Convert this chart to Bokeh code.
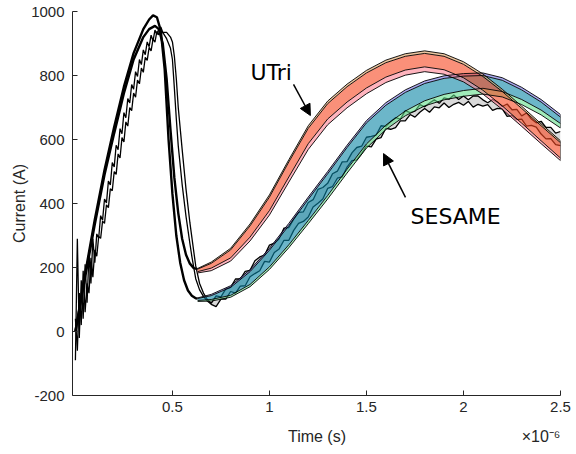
import numpy as np
from bokeh.plotting import figure
from bokeh.models import Range1d, Label, Arrow, NormalHead, FixedTicker, LinearAxis
from bokeh.embed import file_html
from bokeh.resources import INLINE

# ---------------- data (time in microseconds; axis shows x10^-6 s) ----------------
band_t = [0.63, 0.70, 0.80, 0.90, 1.00, 1.10, 1.20, 1.30, 1.40, 1.50,
          1.60, 1.70, 1.80, 1.90, 2.00, 2.10, 2.20, 2.30, 2.40, 2.50]
# UTri
utri_tan = [197, 217, 260, 336, 427, 537, 643, 720, 773, 816, 848, 868, 877, 868, 843, 805, 757, 704, 649, 596]
utri_hi = [195, 213, 255, 330, 420, 530, 635, 712, 765, 808, 840, 860, 869, 860, 835, 797, 750, 697, 643, 590]
utri_lo = [187, 198, 230, 295, 378, 483, 587, 664, 717, 761, 795, 817, 827, 818, 793, 754, 705, 651, 596, 542]
utri_pink = [183, 190, 220, 283, 364, 467, 569, 646, 699, 743, 778, 801, 812, 804, 780, 742, 694, 641, 587, 534]
# SESAME
ses_pur = [105, 116, 143, 193, 260, 338, 420, 500, 582, 659, 715, 755, 783, 799, 806, 808, 793, 763, 725, 678]
ses_hi = [103, 112, 138, 187, 254, 331, 413, 493, 575, 652, 707, 747, 775, 791, 798, 800, 785, 755, 717, 670]
ses_lo = [97, 100, 113, 147, 202, 271, 347, 425, 507, 586, 645, 689, 721, 741, 753, 760, 750, 725, 692, 650]
ses_green = [94, 95, 107, 140, 194, 262, 337, 414, 495, 573, 631, 674, 705, 724, 735, 742, 733, 709, 677, 636]

# simulated curves before the minimum
ses_model_t = [0.0, 0.05, 0.10, 0.15, 0.20, 0.25, 0.30, 0.35, 0.38, 0.40, 0.42, 0.44,
               0.46, 0.48, 0.50, 0.52, 0.54, 0.56, 0.58, 0.60, 0.62, 0.63]
ses_model_i = [0, 180, 350, 505, 640, 765, 870, 945, 975, 988, 982, 940,
               820, 600, 430, 300, 215, 160, 128, 112, 104, 103]
utri_model_t = [0.0, 0.05, 0.10, 0.15, 0.20, 0.25, 0.30, 0.35, 0.38, 0.41, 0.43,
                0.45, 0.47, 0.49, 0.51, 0.53, 0.55, 0.57, 0.59, 0.61, 0.63]
utri_model_i = [0, 170, 335, 490, 620, 745, 850, 920, 945, 955, 945,
                900, 790, 630, 480, 370, 290, 240, 212, 198, 195]

# experiment: two shots
exp_rise_t = [round(0.01 * k, 2) for k in range(46)]
exp1_rise = [-90, 290, -20, 160, 40, 210, 90, 240, 150, 290, 215, 305, 292, 362, 348, 414,
             402, 470, 458, 528, 514, 582, 568, 634, 618, 684, 668, 728, 714, 772, 757, 812,
             797, 850, 834, 880, 865, 905, 890, 926, 908, 942, 927, 946, 932, 935]
exp2_rise = [40, -60, 120, 20, 190, 60, 150, 120, 230, 170, 255, 235, 297, 291, 345, 338,
             396, 387, 446, 440, 500, 491, 555, 542, 606, 592, 655, 642, 700, 690, 745, 732,
             786, 774, 823, 810, 857, 847, 888, 877, 914, 904, 938, 927, 952, 935]
exp_fall_t = [0.47, 0.49, 0.50, 0.51, 0.52, 0.53, 0.55, 0.57, 0.59, 0.60, 0.62, 0.64, 0.66, 0.68]
exp1_fall = [915, 885, 850, 760, 665, 580, 460, 360, 275, 235, 165, 130, 110, 95]
exp2_fall = [935, 920, 905, 860, 790, 700, 570, 445, 340, 295, 205, 150, 120, 100]
exp1_post = [85, 78, 101, 101, 125, 120, 142, 143, 171, 181, 190, 219, 217, 247, 258, 285,
             285, 316, 338, 344, 358, 389, 401, 414, 447, 453, 479, 483, 514, 534, 536, 556,
             579, 577, 601, 606, 635, 632, 637, 658, 658, 678, 670, 685, 697, 685, 702, 699,
             714, 700, 710, 716, 707, 719, 701, 710, 704, 709, 691, 697, 696, 672, 675, 662,
             664, 642, 644, 639, 617, 602, 603, 584, 581]
exp2_post = [88, 111, 108, 133, 138, 164, 164, 188, 191, 221, 233, 239, 270, 276, 290, 323,
             325, 351, 372, 374, 403, 412, 444, 450, 463, 493, 501, 530, 531, 558, 575, 579,
             607, 610, 614, 643, 641, 656, 668, 664, 690, 684, 689, 709, 702, 714, 724, 713,
             730, 726, 739, 725, 736, 724, 736, 736, 724, 715, 725, 717, 703, 711, 693, 694,
             674, 683, 664, 652, 657, 638, 638, 620, 625]
exp_post_t = [round(0.70 + 0.025 * k, 3) for k in range(len(exp1_post))]

x_ticks = [0.5, 1.0, 1.5, 2.0, 2.5]
x_tick_labels = ["0.5", "1", "1.5", "2", "2.5"]
y_ticks = [-200, 0, 200, 400, 600, 800, 1000]
y_tick_labels = ["-200", "0", "200", "400", "600", "800", "1000"]
x_title = "Time (s)"
x_multiplier = "\u00d710\u207b\u2076"
y_title = "Current (A)"

# annotation / title layout
ann = dict(utri_txt=(0.902, 810), utri_a0=(1.124, 772), utri_a1=(1.211, 675),
           ses_txt=(1.727, 360), ses_a0=(1.701, 419), ses_a1=(1.588, 556))
x_title_pos = 1.245
x_mult_pos = 2.40

# ---------------- figure ----------------
FONT = "Liberation Sans"
p = figure(frame_width=488, frame_height=384, output_backend="svg", toolbar_location=None,
           x_range=Range1d(-0.015, 2.5), y_range=Range1d(-200, 1000),
           min_border_left=72, min_border_right=16, min_border_top=11, min_border_bottom=50)
p.outline_line_color = None
p.grid.visible = False
p.background_fill_color = "white"

A = 0.6
p.varea(x=exp_post_t, y1=exp1_post, y2=exp2_post, fill_color="#d9d9d9")
for r, f, po in ((exp1_rise, exp1_fall, exp1_post), (exp2_rise, exp2_fall, exp2_post)):
    p.line(exp_rise_t + exp_fall_t + exp_post_t, r + f + po, line_color="black", line_width=1.3)

p.varea(x=band_t, y1=ses_green, y2=ses_lo, fill_color="#61de8a", fill_alpha=A)
p.varea(x=band_t, y1=ses_lo, y2=ses_hi, fill_color="#0a85a5", fill_alpha=A)
p.varea(x=band_t, y1=ses_hi, y2=ses_pur, fill_color="#7171e6", fill_alpha=A)
p.varea(x=band_t, y1=utri_pink, y2=utri_lo, fill_color="#ff8293", fill_alpha=A)
p.varea(x=band_t, y1=utri_lo, y2=utri_hi, fill_color="#f7461f", fill_alpha=A)
p.varea(x=band_t, y1=utri_hi, y2=utri_tan, fill_color="#e0a060", fill_alpha=A)

for edge in (ses_green, ses_lo, ses_hi, ses_pur, utri_pink, utri_lo, utri_hi, utri_tan):
    p.line(band_t, edge, line_color="black", line_width=0.9)
for lo, hi in ((ses_green, ses_pur), (utri_pink, utri_tan)):
    p.segment(x0=[band_t[-1]], y0=[lo[-1]], x1=[band_t[-1]], y1=[hi[-1]],
              line_color="black", line_width=0.9)

p.line(ses_model_t, ses_model_i, line_color="black", line_width=2.4)
p.line(utri_model_t, utri_model_i, line_color="black", line_width=2.4)

for key, txt in (("utri", "UTri"), ("ses", "SESAME")):
    tx, ty = ann[key + "_txt"]
    p.add_layout(Label(x=tx, y=ty, text=txt, text_font="DejaVu Sans", text_font_size="22px",
                       text_color="black", text_baseline="alphabetic"))
    (x0, y0), (x1, y1) = ann[key + "_a0"], ann[key + "_a1"]
    p.add_layout(Arrow(end=NormalHead(size=11, fill_color="black", line_color="black"),
                       x_start=x0, y_start=y0, x_end=x1, y_end=y1,
                       line_color="black", line_width=1.5))

for ax in (p.xaxis[0], p.yaxis[0]):
    ax.axis_line_color = "#262626"
    ax.major_tick_line_color = "#262626"
    ax.major_tick_in = 5
    ax.major_tick_out = 0
    ax.minor_tick_line_color = None
    ax.major_label_text_font = FONT
    ax.major_label_text_font_size = "15px"
    ax.major_label_text_color = "#262626"
    ax.axis_label_text_font = FONT
    ax.axis_label_text_font_size = "16px"
    ax.axis_label_text_font_style = "normal"
    ax.axis_label_text_color = "#262626"

p.xaxis.ticker = FixedTicker(ticks=x_ticks)
p.xaxis.major_label_overrides = dict(zip(x_ticks, x_tick_labels))
p.yaxis.ticker = FixedTicker(ticks=y_ticks)
p.yaxis.major_label_overrides = dict(zip(y_ticks, y_tick_labels))
p.yaxis.axis_label = y_title
p.xaxis.major_label_standoff = 6
p.yaxis.major_label_standoff = 8
p.yaxis.axis_label_standoff = 0

# second (label-only) axis below: carries the x title and the x10^-6 multiplier
ax2 = LinearAxis(ticker=FixedTicker(ticks=[x_title_pos, x_mult_pos]),
                 major_label_overrides={x_title_pos: x_title, x_mult_pos: x_multiplier},
                 axis_line_color=None, major_tick_line_color=None, minor_tick_line_color=None,
                 major_tick_in=0, major_tick_out=0,
                 major_label_text_font=FONT, major_label_text_font_size="16px",
                 major_label_text_color="#262626", major_label_standoff=13)
p.add_layout(ax2, "below")

open("out.html", "w").write(file_html(p, INLINE))
